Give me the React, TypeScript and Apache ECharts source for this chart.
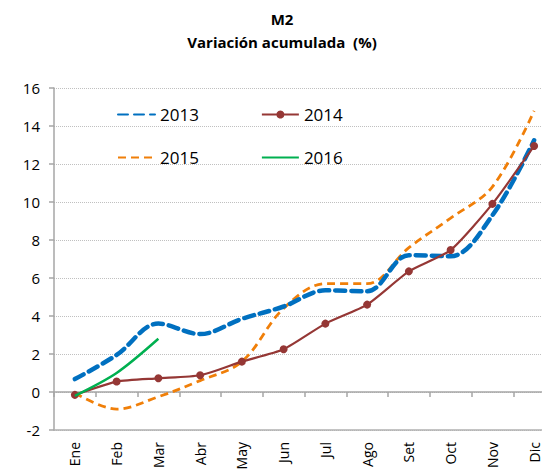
import React, { useEffect, useRef } from "react";
import * as echarts from "echarts";

const months = ["Ene", "Feb", "Mar", "Abr", "May", "Jun", "Jul", "Ago", "Set", "Oct", "Nov", "Dic"];
const s2013 = [0.68, 1.95, 3.6, 3.05, 3.85, 4.5, 5.35, 5.3, 7.2, 7.15, 9.3, 13.25];
const s2014 = [-0.15, 0.55, 0.72, 0.88, 1.6, 2.25, 3.6, 4.6, 6.35, 7.47, 9.9, 12.95];
const s2015 = [-0.05, -0.9, -0.25, 0.6, 1.6, 4.4, 5.7, 5.7, 7.6, 9.15, 10.8, 14.8];
const s2016 = [-0.2, 1.0, 2.8];
const yMin = -2;
const yMax = 16;

const FONT = "Open Sans";
const GRID_TOP = 88;
const GRID_BOTTOM = 41;
const HEIGHT = 471;

export default function App() {
  const ref = useRef<HTMLDivElement>(null);
  useEffect(() => {
    const chart = echarts.init(ref.current!, undefined, { renderer: "svg" });
    const legendBase = {
      left: 112,
      itemWidth: 37,
      itemHeight: 10,
      itemGap: 62,
      textStyle: { fontSize: 17, color: "#000", fontFamily: FONT },
    };
    const hidden = { itemStyle: { opacity: 0 } };
    const plotH = HEIGHT - GRID_TOP - GRID_BOTTOM;
    const zeroOffset = -(plotH * (yMax - 0)) / (yMax - yMin);
    chart.setOption({
      animation: false,
      backgroundColor: "#fff",
      title: {
        text: "M2",
        subtext: "Variación acumulada  (%)",
        left: 277,
        top: 6,
        textAlign: "center",
        itemGap: 8,
        textStyle: { fontSize: 15, fontWeight: "bold", color: "#000", fontFamily: FONT },
        subtextStyle: { fontSize: 15, fontWeight: "bold", color: "#000", fontFamily: FONT },
      },
      legend: [
        { ...legendBase, top: 101, data: [{ name: "2013", ...hidden }, { name: "2014" }] },
        { ...legendBase, top: 144, data: [{ name: "2015", ...hidden }, { name: "2016", ...hidden }] },
      ],
      grid: { left: 54, right: -13, top: GRID_TOP, bottom: GRID_BOTTOM, outerBoundsMode: "none", containLabel: false },
      xAxis: [
        {
          type: "category",
          data: months,
          position: "bottom",
          boundaryGap: true,
          axisLine: { onZero: false, lineStyle: { color: "#b0b0b0", width: 1.5 } },
          axisTick: { show: false },
          axisLabel: {
            rotate: 90,
            margin: 12,
            fontSize: 14,
            color: "#000",
            fontFamily: FONT,
          },
        },
        {
          type: "category",
          data: months,
          position: "top",
          offset: zeroOffset,
          boundaryGap: true,
          axisLine: { onZero: false, lineStyle: { color: "#a6a6a6", width: 1.5 } },
          axisTick: { show: true, inside: true, length: 5, lineStyle: { color: "#a6a6a6", width: 1.5 } },
          axisLabel: { show: false },
        },
      ],
      yAxis: {
        type: "value",
        min: yMin,
        max: yMax,
        interval: 2,
        axisLine: { show: true, onZero: false, lineStyle: { color: "#a6a6a6", width: 1.5 } },
        axisTick: { show: true, length: 5, lineStyle: { color: "#a6a6a6", width: 1.5 } },
        axisLabel: { fontSize: 15, color: "#000", fontFamily: FONT, margin: 14 },
        splitLine: { show: true, lineStyle: { color: "#c0c0c0", type: [1, 1], width: 1.2 } },
      },
      series: [
        {
          name: "2013",
          type: "line",
          data: s2013,
          smooth: 0.35,
          symbol: "none",
          lineStyle: { color: "#0070C0", width: 4.5, type: [10, 6], cap: "round" },
          itemStyle: { color: "#0070C0" },
          z: 3,
        },
        {
          name: "2014",
          type: "line",
          data: s2014,
          smooth: 0.2,
          symbol: "circle",
          symbolSize: 8,
          lineStyle: { color: "#953735", width: 2.2 },
          itemStyle: { color: "#953735" },
          z: 4,
        },
        {
          name: "2015",
          type: "line",
          data: s2015,
          smooth: 0.35,
          symbol: "none",
          lineStyle: { color: "#F07F09", width: 2.8, type: [8, 5] },
          itemStyle: { color: "#F07F09" },
          z: 2,
        },
        {
          name: "2016",
          type: "line",
          data: s2016,
          smooth: 0.3,
          symbol: "none",
          lineStyle: { color: "#00B050", width: 2.5 },
          itemStyle: { color: "#00B050" },
          z: 5,
        },
      ],
    });
    return () => chart.dispose();
  }, []);
  return (
    <div
      ref={ref}
      style={{ position: "fixed", left: 0, top: 0, width: 542, height: 471, background: "#fff" }}
    />
  );
}
